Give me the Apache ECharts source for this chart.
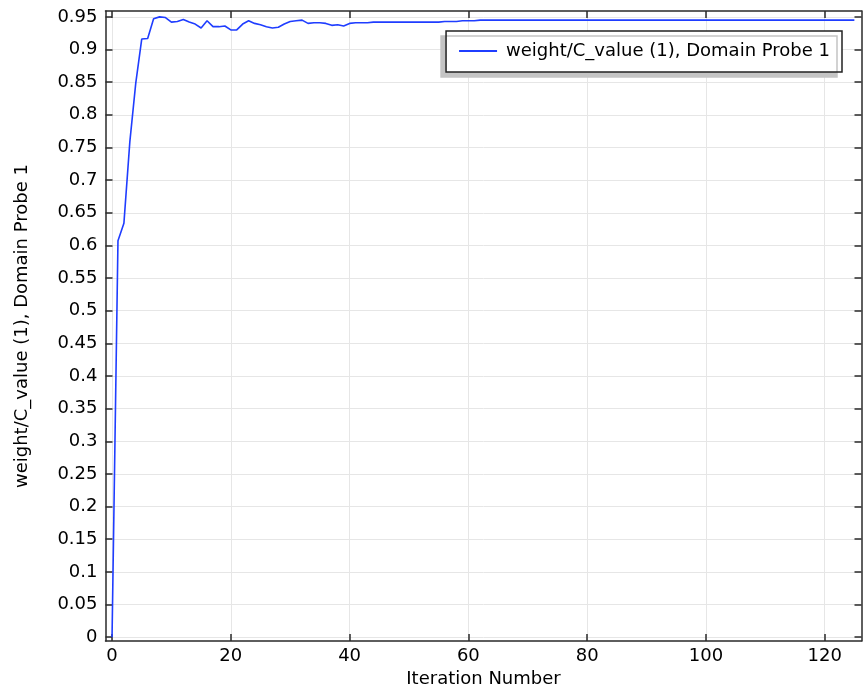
<!DOCTYPE html>
<html>
<head>
<meta charset="utf-8">
<script src="https://cdn.jsdelivr.net/npm/echarts@6/dist/echarts.min.js"></script>
<style>
  html, body { margin: 0; padding: 0; background: #fff; }
  #main { width: 863px; height: 693px; }
</style>
</head>
<body>
<div id="main"></div>
<script>
// probe value per iteration (index = iteration number)
var probeValues = [
  0, 0.607, 0.634, 0.759, 0.849, 0.916, 0.917, 0.947, 0.950, 0.949,
  0.942, 0.943, 0.946, 0.942, 0.939, 0.933, 0.944, 0.935, 0.935, 0.936,
  0.930, 0.930, 0.939, 0.944, 0.940, 0.938, 0.935, 0.933, 0.934, 0.939,
  0.943, 0.944, 0.945, 0.940, 0.941, 0.941, 0.940, 0.937, 0.938, 0.936,
  0.940, 0.941, 0.941, 0.941, 0.942, 0.942, 0.942, 0.942, 0.942, 0.942,
  0.942, 0.942, 0.942, 0.942, 0.942, 0.942, 0.943, 0.943, 0.943, 0.944,
  0.944, 0.944, 0.945, 0.945, 0.945, 0.945, 0.945, 0.945, 0.945, 0.945,
  0.945, 0.945, 0.945, 0.945, 0.945, 0.945, 0.945, 0.945, 0.945, 0.945,
  0.945, 0.945, 0.945, 0.945, 0.945, 0.945, 0.945, 0.945, 0.945, 0.945,
  0.945, 0.945, 0.945, 0.945, 0.945, 0.945, 0.945, 0.945, 0.945, 0.945,
  0.945, 0.945, 0.945, 0.945, 0.945, 0.945, 0.945, 0.945, 0.945, 0.945,
  0.945, 0.945, 0.945, 0.945, 0.945, 0.945, 0.945, 0.945, 0.945, 0.945,
  0.945, 0.945, 0.945, 0.945, 0.945, 0.945
];
var xTicks = [0, 20, 40, 60, 80, 100, 120];
var yTicks = [0, 0.05, 0.1, 0.15, 0.2, 0.25, 0.3, 0.35, 0.4, 0.45, 0.5,
              0.55, 0.6, 0.65, 0.7, 0.75, 0.8, 0.85, 0.9, 0.95];
var seriesName = 'weight/C_value (1), Domain Probe 1';
var xName = 'Iteration Number';

var font = 'DejaVu Sans';
var fontSize = 18;
var axisColor = '#2a2a2a';
var gridColor = '#e6e6e6';

var points = probeValues.map(function (v, i) { return [i, v]; });

function fmt(v) { return String(+(+v).toFixed(2)); }

function xAxisCfg(pos, main) {
  return {
    type: 'value', position: pos, min: -1.1, max: 126.2,
    name: main ? xName : '', nameLocation: 'middle', nameGap: 27,
    nameTextStyle: { fontFamily: font, fontSize: fontSize, color: '#000' },
    axisLine: { show: true, onZero: false, lineStyle: { color: axisColor, width: 1.5 } },
    axisTick: { show: true, inside: true, length: 7, customValues: xTicks, lineStyle: { color: axisColor, width: 1.5 } },
    axisLabel: { show: main, customValues: xTicks, fontFamily: font, fontSize: fontSize, color: '#000', margin: 6, formatter: fmt },
    splitLine: { show: main, lineStyle: { color: gridColor, width: 1 } }
  };
}
function yAxisCfg(pos, main) {
  return {
    type: 'value', position: pos, min: -0.006, max: 0.959,
    name: main ? seriesName : '', nameLocation: 'middle', nameGap: 74,
    nameTextStyle: { fontFamily: font, fontSize: fontSize, color: '#000' },
    axisLine: { show: true, onZero: false, lineStyle: { color: axisColor, width: 1.5 } },
    axisTick: { show: true, inside: true, length: 7, customValues: yTicks, lineStyle: { color: axisColor, width: 1.5 } },
    axisLabel: { show: main, customValues: yTicks, fontFamily: font, fontSize: fontSize, color: '#000', margin: 8, formatter: fmt },
    splitLine: { show: main, lineStyle: { color: gridColor, width: 1 } }
  };
}

var chart = echarts.init(document.getElementById('main'));
chart.setOption({
  backgroundColor: '#fff',
  animation: false,
  grid: { left: 105.5, right: 1.5, top: 11, bottom: 46 },
  legend: {
    right: 21, top: 31,
    padding: [11, 12, 12, 13],
    backgroundColor: '#fff',
    borderColor: '#222', borderWidth: 1.5,
    shadowColor: '#c4c4c4', shadowBlur: 0, shadowOffsetX: -5, shadowOffsetY: 5,
    icon: 'rect', itemWidth: 38, itemHeight: 2,
    textStyle: { fontFamily: font, fontSize: fontSize, color: '#000', padding: [0, 0, 0, 4] },
    data: [seriesName]
  },
  xAxis: [xAxisCfg('bottom', true), xAxisCfg('top', false)],
  yAxis: [yAxisCfg('left', true), yAxisCfg('right', false)],
  series: [{
    name: seriesName,
    type: 'line',
    data: points,
    showSymbol: false,
    symbol: 'none',
    lineStyle: { color: '#1f3dff', width: 1.6 },
    itemStyle: { color: '#1f3dff' }
  }]
});
</script>
</body>
</html>
